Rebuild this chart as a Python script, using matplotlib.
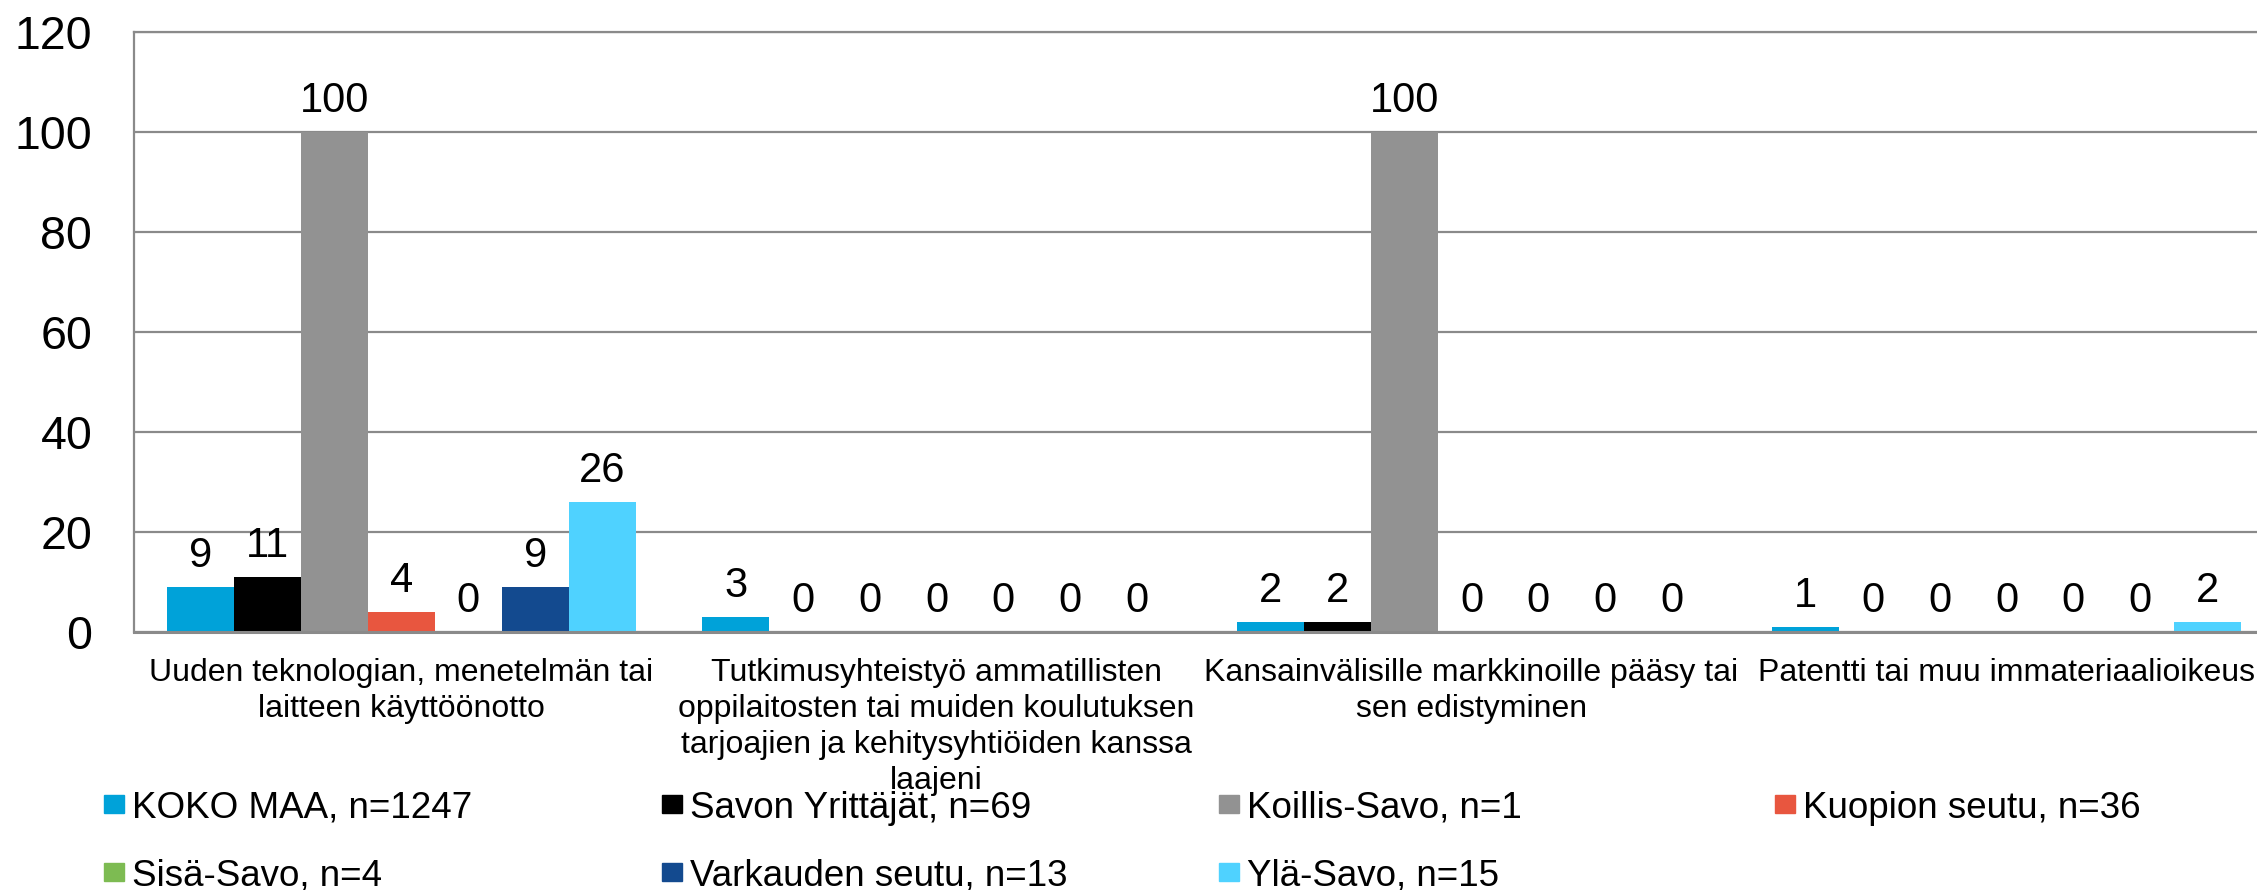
import numpy as np
import matplotlib
matplotlib.use("Agg")
from matplotlib import pyplot as plt
from matplotlib.patches import Rectangle

plt.rcParams['font.family'] = ['Liberation Sans', 'DejaVu Sans']

categories = [
    "Uuden teknologian, menetelmän tai\nlaitteen käyttöönotto",
    "Tutkimusyhteistyö ammatillisten\noppilaitosten tai muiden koulutuksen\ntarjoajien ja kehitysyhtiöiden kanssa\nlaajeni",
    "Kansainvälisille markkinoille pääsy tai\nsen edistyminen",
    "Patentti tai muu immateriaalioikeus",
]

series_names = [
    "KOKO MAA, n=1247",
    "Savon Yrittäjät, n=69",
    "Koillis-Savo, n=1",
    "Kuopion seutu, n=36",
    "Sisä-Savo, n=4",
    "Varkauden seutu, n=13",
    "Ylä-Savo, n=15",
]

koko_maa = [9, 3, 2, 1]
savon_yrittajat = [11, 0, 2, 0]
koillis_savo = [100, 0, 100, 0]
kuopion_seutu = [4, 0, 0, 0]
sisa_savo = [0, 0, 0, 0]
varkauden_seutu = [9, 0, 0, 0]
yla_savo = [26, 0, 0, 2]

colors = ["#00A2D9", "#000000", "#929292", "#E8563F", "#7DBB52", "#134A8F", "#4FD2FF"]

values = [koko_maa, savon_yrittajat, koillis_savo, kuopion_seutu,
          sisa_savo, varkauden_seutu, yla_savo]

W, H = 2257, 890
fig = plt.figure(figsize=(W / 100, H / 100), dpi=100)
# plot area runs a little past the right edge of the canvas
ax = fig.add_axes([134 / W, 1 - 632 / H, (2274 - 134) / W, 600 / H])

x = np.arange(len(categories))
bw = 0.125
for i, (vals, col) in enumerate(zip(values, colors)):
    pos = x + (i - 3) * bw
    bars = ax.bar(pos, vals, width=bw, color=col, zorder=2)
    for b, v in zip(bars, vals):
        ax.annotate(f"{v:.0f}", (b.get_x() + b.get_width() / 2, v),
                    xytext=(0, 8), textcoords="offset points",
                    ha="center", va="bottom", fontsize=30, color="black")

ax.set_xlim(-0.5, 3.5)
ax.set_ylim(0, 120)
ax.set_yticks(range(0, 121, 20))
ax.set_axisbelow(True)
ax.grid(axis="y", color="#8A8A8A", linewidth=1.6)
ax.tick_params(axis="y", length=0, pad=30, labelsize=33.5)
ax.set_xticks(x)
ax.set_xticklabels(categories, fontsize=23, linespacing=1.25)
ax.tick_params(axis="x", length=0, pad=19)

for side in ["left", "bottom", "top"]:
    ax.spines[side].set_color("#8A8A8A")
ax.spines["left"].set_linewidth(1.6)
ax.spines["top"].set_linewidth(1.6)
ax.spines["bottom"].set_linewidth(2.2)
ax.spines["right"].set_visible(False)

# legend laid out in a fixed 4-column grid
col_x = [104, 662, 1219, 1775]
row_y = [804, 872]
for i, (name, col) in enumerate(zip(series_names, colors)):
    r, c = divmod(i, 4)
    px, py = col_x[c], row_y[r]
    fig.patches.append(Rectangle((px / W, 1 - (py + 9) / H), 20 / W, 18 / H,
                                 transform=fig.transFigure, color=col))
    fig.text((px + 28) / W, 1 - py / H, name, fontsize=26.5,
             ha="left", va="center_baseline")

fig.savefig("out.png", dpi=100)
